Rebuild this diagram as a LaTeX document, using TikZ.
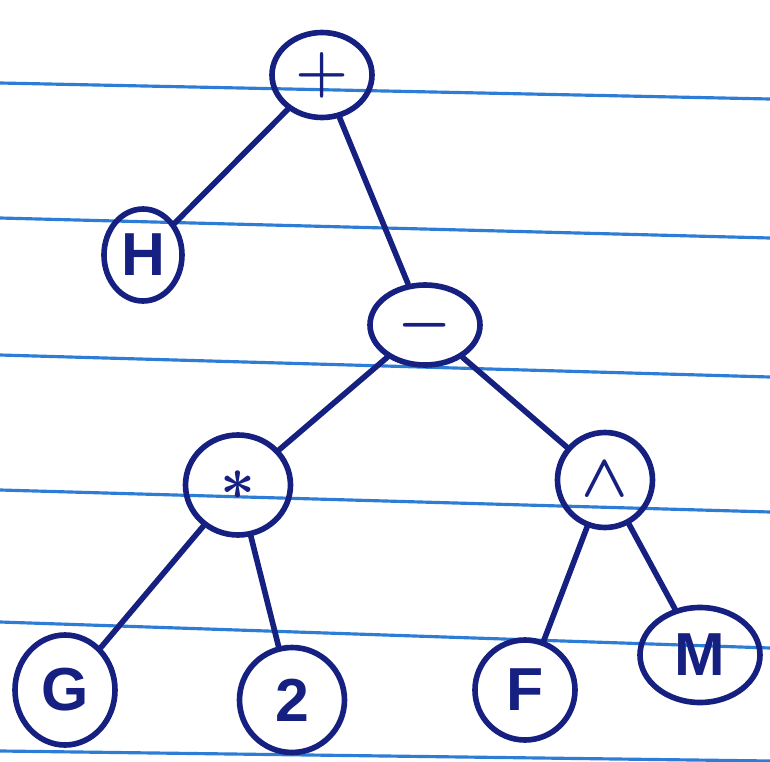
\documentclass[tikz,border=0pt]{standalone}
\usepackage{fontspec}
\setmainfont{Liberation Sans}
\usetikzlibrary{shapes.geometric}
\definecolor{ink}{RGB}{22,32,128}
\definecolor{rule}{RGB}{45,125,215}
\tikzset{
	op/.style={ellipse,draw=ink,line width=1.6pt,text=ink,inner sep=0pt,font=\LARGE\bfseries\boldmath},
	edge/.style={draw=ink,line width=1.6pt,line cap=round},
	ruling/.style={draw=rule,line width=0.9pt}
}
\begin{document}
\begin{tikzpicture}
	\fill[white] (0,0) rectangle (7.7,7.61);
	\useasboundingbox (0,0) rectangle (7.7,7.61);
	\draw[ruling] (0,6.78)--(7.7,6.62);
	\draw[ruling] (0,5.43)--(7.7,5.23);
	\draw[ruling] (0,4.06)--(7.7,3.84);
	\draw[ruling] (0,2.71)--(7.7,2.49);
	\draw[ruling] (0,1.39)--(7.7,1.13);
	\draw[ruling] (0,0.10)--(7.7,0.00);
	\node[op,minimum width=1.0cm,minimum height=0.85cm] (plus) at (3.22,6.86) {$+$};
	\node[op,minimum width=0.78cm,minimum height=0.92cm] (h) at (1.43,5.06) {H};
	\node[op,minimum width=1.1cm,minimum height=0.8cm] (minus) at (4.25,4.36) {$-$};
	\node[op,minimum width=1.05cm,minimum height=1.0cm] (times) at (2.38,2.76) {$\ast$};
	\node[op,minimum width=0.95cm,minimum height=0.95cm] (power) at (6.05,2.81) {$\wedge$};
	\node[op,minimum width=1.0cm,minimum height=1.1cm] (g) at (0.65,0.71) {G};
	\node[op,minimum width=1.05cm,minimum height=1.05cm] (two) at (2.92,0.61) {2};
	\node[op,minimum width=1.0cm,minimum height=1.0cm] (f) at (5.25,0.71) {F};
	\node[op,minimum width=1.2cm,minimum height=0.95cm] (m) at (7.00,1.06) {M};
	\draw[edge] (plus)--(h);
	\draw[edge] (plus)--(minus);
	\draw[edge] (minus)--(times);
	\draw[edge] (minus)--(power);
	\draw[edge] (times)--(g);
	\draw[edge] (times)--(two);
	\draw[edge] (power)--(f);
	\draw[edge] (power)--(m);
\end{tikzpicture}
\end{document}
